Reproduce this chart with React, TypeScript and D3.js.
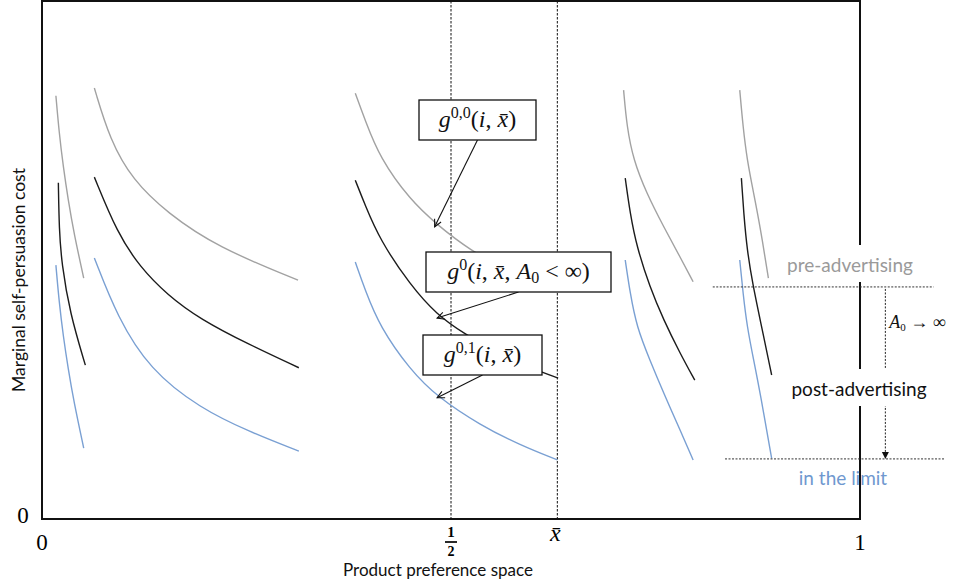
import React, { useEffect, useRef } from 'react'
import * as d3 from 'd3'

// x: product preference space (0..1), y: marginal self-persuasion cost (0..1)
const xTickHalf = 0.5
const xBar = 0.63

// pre-advertising cost curves, one per product segment
const preAdvertising: [number, number][][] = [
  [[0.017, 0.817], [0.021, 0.745], [0.026, 0.68], [0.032, 0.616], [0.039, 0.552], [0.051, 0.465]],
  [[0.064, 0.832], [0.083, 0.732], [0.111, 0.654], [0.153, 0.591], [0.214, 0.525], [0.313, 0.461]],
  [[0.383, 0.822], [0.395, 0.77], [0.413, 0.697], [0.45, 0.616], [0.483, 0.568], [0.523, 0.519], [0.572, 0.477], [0.624, 0.442]],
  [[0.711, 0.828], [0.715, 0.757], [0.723, 0.693], [0.739, 0.629], [0.76, 0.564], [0.78, 0.506], [0.796, 0.458]],
  [[0.853, 0.828], [0.857, 0.757], [0.862, 0.693], [0.87, 0.629], [0.878, 0.564], [0.888, 0.465]],
]

// post-advertising (A0 < inf)
const postAdvertising: [number, number][][] = [
  [[0.02, 0.649], [0.021, 0.558], [0.024, 0.494], [0.034, 0.398], [0.053, 0.297]],
  [[0.064, 0.66], [0.092, 0.552], [0.12, 0.486], [0.153, 0.433], [0.193, 0.386], [0.254, 0.336], [0.314, 0.292]],
  [[0.383, 0.654], [0.395, 0.606], [0.413, 0.539], [0.45, 0.452], [0.483, 0.394], [0.515, 0.359], [0.56, 0.317], [0.597, 0.292], [0.631, 0.272]],
  [[0.713, 0.658], [0.719, 0.59], [0.727, 0.526], [0.743, 0.448], [0.76, 0.384], [0.78, 0.32], [0.798, 0.268]],
  [[0.855, 0.658], [0.858, 0.587], [0.862, 0.519], [0.869, 0.452], [0.878, 0.384], [0.892, 0.278]],
]

// in the limit (A0 -> inf)
const inTheLimit: [number, number][][] = [
  [[0.017, 0.49], [0.021, 0.418], [0.026, 0.353], [0.032, 0.29], [0.039, 0.226], [0.051, 0.137]],
  [[0.064, 0.504], [0.092, 0.39], [0.132, 0.288], [0.193, 0.214], [0.254, 0.168], [0.314, 0.131]],
  [[0.383, 0.496], [0.395, 0.442], [0.413, 0.371], [0.45, 0.288], [0.483, 0.236], [0.536, 0.181], [0.584, 0.143], [0.63, 0.114]],
  [[0.713, 0.5], [0.719, 0.436], [0.727, 0.371], [0.743, 0.307], [0.76, 0.243], [0.78, 0.172], [0.796, 0.114]],
  [[0.853, 0.5], [0.857, 0.436], [0.862, 0.371], [0.87, 0.307], [0.878, 0.243], [0.892, 0.117]],
]

const preLevel = 0.448
const limitLevel = 0.116

// points on the middle curves that the callouts point at
const calloutTargets: [number, number][] = [
  [0.48, 0.564],
  [0.483, 0.388],
  [0.483, 0.234],
]

type Part = { t: string; it?: boolean; sup?: boolean; sub?: boolean }
const calloutLabels: Part[][] = [
  [{ t: 'g', it: true }, { t: '0,0', sup: true }, { t: '(' }, { t: 'i', it: true }, { t: ', ' }, { t: 'x\u0304', it: true }, { t: ')' }],
  [
    { t: 'g', it: true }, { t: '0', sup: true }, { t: '(' }, { t: 'i', it: true }, { t: ', ' }, { t: 'x\u0304', it: true },
    { t: ', ' }, { t: 'A', it: true }, { t: '0', sub: true }, { t: ' < \u221E)' },
  ],
  [{ t: 'g', it: true }, { t: '0,1', sup: true }, { t: '(' }, { t: 'i', it: true }, { t: ', ' }, { t: 'x\u0304', it: true }, { t: ')' }],
]

const GRAY = '#a2a2a2'
const BLACK = '#1c1c1c'
const BLUE = '#7aa0d3'
const SANS = 'Lato, "Open Sans", sans-serif'
const SERIF = '"Liberation Serif", "DejaVu Serif", serif'

const App = () => {
  const svgRef = useRef<SVGSVGElement>(null)

  useEffect(() => {
    const width = 961
    const height = 588
    const svg = d3.select(svgRef.current).attr('width', width).attr('height', height)
    svg.selectAll('*').remove()

    const x = d3.scaleLinear().domain([0, 1]).range([42, 860])
    const y = d3.scaleLinear().domain([0, 1]).range([519, 1])

    const defs = svg.append('defs')
    defs
      .append('marker')
      .attr('id', 'open-arrow')
      .attr('viewBox', '0 0 10 10')
      .attr('refX', 9)
      .attr('refY', 5)
      .attr('markerWidth', 9)
      .attr('markerHeight', 9)
      .attr('markerUnits', 'userSpaceOnUse')
      .attr('orient', 'auto')
      .append('path')
      .attr('d', 'M1,1 L9,5 L1,9')
      .attr('fill', 'none')
      .attr('stroke', '#111')
      .attr('stroke-width', 1.2)

    // frame / axes
    svg
      .append('rect')
      .attr('x', x(0))
      .attr('y', y(1))
      .attr('width', x(1) - x(0))
      .attr('height', y(0) - y(1))
      .attr('fill', 'none')
      .attr('stroke', '#111')
      .attr('stroke-width', 2)

    // dashed guides at 1/2 and x-bar
    svg
      .selectAll('.guide')
      .data([xTickHalf, xBar])
      .enter()
      .append('line')
      .attr('x1', (d) => x(d))
      .attr('x2', (d) => x(d))
      .attr('y1', y(1))
      .attr('y2', y(0))
      .attr('stroke', '#111')
      .attr('stroke-width', 1)
      .attr('stroke-dasharray', '2.5,1.5')

    // curves
    const line = d3
      .line<[number, number]>()
      .x((d) => x(d[0]))
      .y((d) => y(d[1]))
      .curve(d3.curveBasis)

    const groups: [[number, number][][], string][] = [
      [preAdvertising, GRAY],
      [postAdvertising, BLACK],
      [inTheLimit, BLUE],
    ]
    groups.forEach(([series, color]) => {
      svg
        .append('g')
        .selectAll('path')
        .data(series)
        .enter()
        .append('path')
        .attr('d', (d) => line(d))
        .attr('fill', 'none')
        .attr('stroke', color)
        .attr('stroke-width', 1.4)
    })

    // level lines on the right
    const levels: [number, number, number][] = [
      [preLevel, 0.82, 1.09],
      [limitLevel, 0.835, 1.104],
    ]
    svg
      .append('g')
      .selectAll('line')
      .data(levels)
      .enter()
      .append('line')
      .attr('x1', (d) => x(d[1]))
      .attr('x2', (d) => x(d[2]))
      .attr('y1', (d) => y(d[0]))
      .attr('y2', (d) => y(d[0]))
      .attr('stroke', '#333')
      .attr('stroke-width', 1)
      .attr('stroke-dasharray', '2,1.5')

    // dotted arrow A0 -> inf
    const ax = x(1.031)
    svg
      .append('line')
      .attr('x1', ax)
      .attr('x2', ax)
      .attr('y1', y(preLevel) + 2)
      .attr('y2', y(limitLevel) - 6)
      .attr('stroke', '#222')
      .attr('stroke-width', 1)
      .attr('stroke-dasharray', '2,1.5')
    svg
      .append('path')
      .attr('d', `M${ax - 3.5},${y(limitLevel) - 7} L${ax + 3.5},${y(limitLevel) - 7} L${ax},${y(limitLevel)} Z`)
      .attr('fill', '#111')

    const aLabel = svg
      .append('text')
      .attr('x', ax + 4)
      .attr('y', 328)
      .attr('font-family', SERIF)
      .attr('font-size', 18)
      .attr('fill', '#111')
    aLabel.append('tspan').attr('font-style', 'italic').text('A')
    aLabel.append('tspan').attr('font-size', 11).attr('dy', 3).text('0')
    aLabel.append('tspan').attr('dy', -3).text(' \u2192 \u221E')

    // stage labels on the right
    const stageLabels: [string, string, number, number, boolean][] = [
      ['pre-advertising', '#9a9a9a', 850, 272, true],
      ['post-advertising', '#111', 859, 396, true],
      ['in the limit', '#6f98cf', 843, 485, false],
    ]
    stageLabels.forEach(([label, color, cx, by, bg]) => {
      const g = svg.append('g')
      const rect = g.append('rect').attr('fill', '#fff')
      const t = g
        .append('text')
        .attr('x', cx)
        .attr('y', by)
        .attr('text-anchor', 'middle')
        .attr('font-family', SANS)
        .attr('font-size', 19)
        .attr('fill', color)
        .text(label)
      if (bg) {
        const b = (t.node() as SVGTextElement).getBBox()
        rect
          .attr('x', b.x - 4)
          .attr('y', b.y - 8)
          .attr('width', b.width + 8)
          .attr('height', b.height + 14)
      } else {
        rect.remove()
      }
    })

    // callout boxes
    const boxes = [
      { cx: 477.5, cy: 120, w: 117, h: 40 },
      { cx: 518.5, cy: 272, w: 185, h: 40 },
      { cx: 482.5, cy: 355, w: 119, h: 40 },
    ]
    boxes.forEach((bx, i) => {
      const [tx, ty] = calloutTargets[i]
      svg
        .append('line')
        .attr('x1', bx.cx)
        .attr('y1', bx.cy + bx.h / 2)
        .attr('x2', x(tx))
        .attr('y2', y(ty))
        .attr('stroke', '#111')
        .attr('stroke-width', 1.1)
        .attr('marker-end', 'url(#open-arrow)')
      svg
        .append('rect')
        .attr('x', bx.cx - bx.w / 2)
        .attr('y', bx.cy - bx.h / 2)
        .attr('width', bx.w)
        .attr('height', bx.h)
        .attr('fill', '#fff')
        .attr('stroke', '#111')
        .attr('stroke-width', 1.3)
      const t = svg
        .append('text')
        .attr('x', bx.cx)
        .attr('y', bx.cy + 7)
        .attr('text-anchor', 'middle')
        .attr('font-family', SERIF)
        .attr('font-size', 24)
        .attr('fill', '#111')
      let shift = 0
      calloutLabels[i].forEach((p) => {
        const ts = t.append('tspan').text(p.t)
        let target = 0
        if (p.sup) target = -9
        if (p.sub) target = 4
        if (target !== shift) ts.attr('dy', target - shift)
        shift = target
        if (p.it) ts.attr('font-style', 'italic')
        if (p.sup || p.sub) ts.attr('font-size', 16)
      })
    })

    // tick labels
    const tickFont = { family: SERIF, size: 23 }
    svg
      .append('text')
      .attr('x', 23)
      .attr('y', 523)
      .attr('text-anchor', 'middle')
      .attr('font-family', tickFont.family)
      .attr('font-size', tickFont.size)
      .text('0')
    svg
      .selectAll('.xtick')
      .data([0, 1])
      .enter()
      .append('text')
      .attr('x', (d) => x(d))
      .attr('y', 550)
      .attr('text-anchor', 'middle')
      .attr('font-family', tickFont.family)
      .attr('font-size', tickFont.size)
      .text((d) => String(d))

    // 1/2 as a stacked fraction
    const hx = x(xTickHalf)
    svg
      .append('text')
      .attr('x', hx)
      .attr('y', 537)
      .attr('text-anchor', 'middle')
      .attr('font-family', SERIF)
      .attr('font-size', 15)
      .attr('font-weight', 'bold')
      .text('1')
    svg
      .append('line')
      .attr('x1', hx - 6)
      .attr('x2', hx + 6)
      .attr('y1', 542)
      .attr('y2', 542)
      .attr('stroke', '#111')
      .attr('stroke-width', 1.8)
    svg
      .append('text')
      .attr('x', hx)
      .attr('y', 556)
      .attr('text-anchor', 'middle')
      .attr('font-family', SERIF)
      .attr('font-size', 14)
      .attr('font-weight', 'bold')
      .text('2')

    svg
      .append('text')
      .attr('x', x(xBar) - 2)
      .attr('y', 541)
      .attr('text-anchor', 'middle')
      .attr('font-family', SERIF)
      .attr('font-style', 'italic')
      .attr('font-size', 24)
      .text('x\u0304')

    // axis titles
    svg
      .append('text')
      .attr('x', 438)
      .attr('y', 576)
      .attr('text-anchor', 'middle')
      .attr('font-family', SANS)
      .attr('font-size', 17)
      .attr('fill', '#111')
      .text('Product preference space')

    svg
      .append('text')
      .attr('transform', 'translate(25, 280) rotate(-90)')
      .attr('text-anchor', 'middle')
      .attr('font-family', SANS)
      .attr('font-size', 17.5)
      .attr('fill', '#111')
      .text('Marginal self-persuasion cost')
  }, [])

  return <svg ref={svgRef} style={{ position: 'absolute', left: 0, top: 0, background: '#fff' }}></svg>
}

export default App
